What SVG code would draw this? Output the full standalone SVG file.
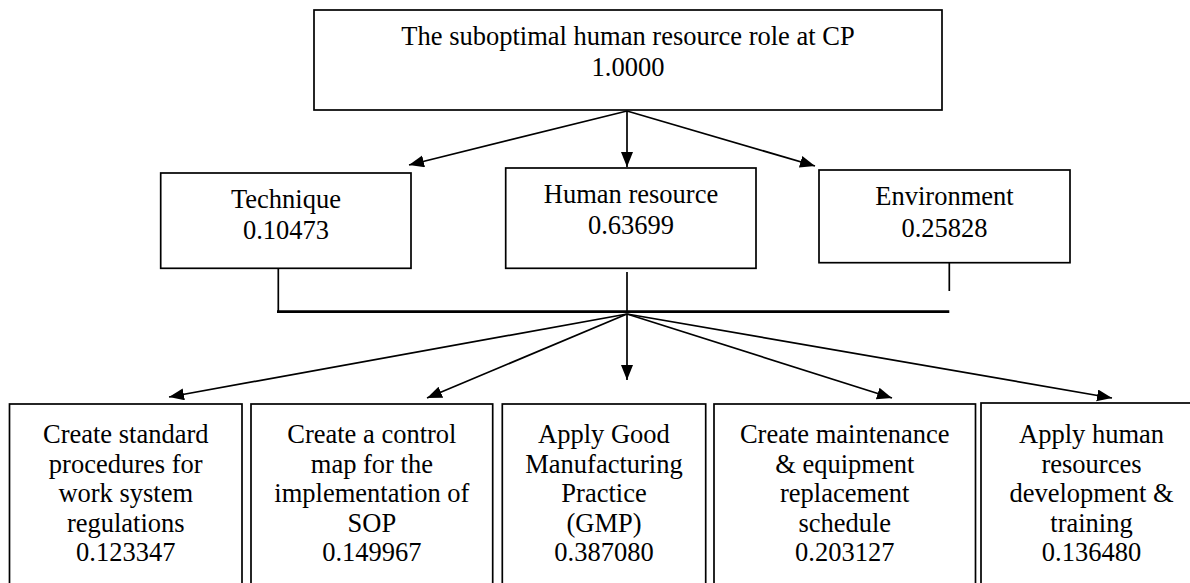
<svg xmlns="http://www.w3.org/2000/svg" width="1190" height="583" viewBox="0 0 1190 583">
<style>
.box{fill:#fff;stroke:#000;stroke-width:1.7}
.t{font-family:"Liberation Serif","Times New Roman",serif;font-size:26.5px;fill:#000;text-anchor:middle}
.c{fill:none;stroke:#000;stroke-width:1.7}
.bus{fill:none;stroke:#000;stroke-width:2.8}
</style>
<defs>
<marker id="ah" markerUnits="userSpaceOnUse" markerWidth="16" markerHeight="14" refX="15" refY="6" orient="auto">
<path d="M0,0 L15,6 L0,12 z" fill="#000"/>
</marker>
</defs>
<rect width="1190" height="583" fill="#fff"/>
<g id="connectors">
<line class="c" x1="627" y1="111" x2="409" y2="165" marker-end="url(#ah)"/>
<line class="c" x1="627" y1="111" x2="627" y2="167" marker-end="url(#ah)"/>
<line class="c" x1="627" y1="111" x2="815" y2="166" marker-end="url(#ah)"/>
<line class="c" x1="278.3" y1="268" x2="278.3" y2="311.7"/>
<line class="bus" x1="277" y1="311.7" x2="949.3" y2="311.7"/>
<line class="c" x1="627" y1="272" x2="627" y2="313"/>
<line class="c" x1="949.3" y1="251" x2="949.3" y2="291"/>
<line class="c" x1="627" y1="314" x2="169" y2="397" marker-end="url(#ah)"/>
<line class="c" x1="627" y1="314" x2="427" y2="398" marker-end="url(#ah)"/>
<line class="c" x1="627" y1="314" x2="627" y2="380" marker-end="url(#ah)"/>
<line class="c" x1="627" y1="314" x2="892" y2="398" marker-end="url(#ah)"/>
<line class="c" x1="627" y1="314" x2="1112" y2="398" marker-end="url(#ah)"/>
</g>
<g id="root">
<rect class="box" x="314" y="10" width="628" height="100"/>
<text class="t" x="628" y="45">The suboptimal human resource role at CP</text>
<text class="t" x="628" y="76">1.0000</text>
</g>
<g id="technique">
<rect class="box" x="160.7" y="173" width="250.3" height="95.3"/>
<text class="t" x="286" y="208">Technique</text>
<text class="t" x="286" y="239">0.10473</text>
</g>
<g id="human">
<rect class="box" x="505.7" y="168" width="250.3" height="100.3"/>
<text class="t" x="631" y="203">Human resource</text>
<text class="t" x="631" y="234">0.63699</text>
</g>
<g id="environment">
<rect class="box" x="819" y="170" width="251" height="92.7"/>
<text class="t" x="944.5" y="205">Environment</text>
<text class="t" x="944.5" y="236.5">0.25828</text>
</g>
<g id="b1">
<rect class="box" x="9.5" y="404" width="232.5" height="200"/>
<text class="t" x="125.75" y="443">Create standard</text>
<text class="t" x="125.75" y="472.5">procedures for</text>
<text class="t" x="125.75" y="502">work system</text>
<text class="t" x="125.75" y="531.5">regulations</text>
<text class="t" x="125.75" y="561">0.123347</text>
</g>
<g id="b2">
<rect class="box" x="251" y="404" width="241.7" height="200"/>
<text class="t" x="371.85" y="443">Create a control</text>
<text class="t" x="371.85" y="472.5">map for the</text>
<text class="t" x="371.85" y="502">implementation of</text>
<text class="t" x="371.85" y="531.5">SOP</text>
<text class="t" x="371.85" y="561">0.149967</text>
</g>
<g id="b3">
<rect class="box" x="502.3" y="404" width="203.4" height="200"/>
<text class="t" x="604" y="443">Apply Good</text>
<text class="t" x="604" y="472.5">Manufacturing</text>
<text class="t" x="604" y="502">Practice</text>
<text class="t" x="604" y="531.5">(GMP)</text>
<text class="t" x="604" y="561">0.387080</text>
</g>
<g id="b4">
<rect class="box" x="714" y="404" width="261.5" height="200"/>
<text class="t" x="844.75" y="443">Create maintenance</text>
<text class="t" x="844.75" y="472.5">&amp; equipment</text>
<text class="t" x="844.75" y="502">replacement</text>
<text class="t" x="844.75" y="531.5">schedule</text>
<text class="t" x="844.75" y="561">0.203127</text>
</g>
<g id="b5">
<rect class="box" x="981" y="403" width="220" height="200"/>
<text class="t" x="1091.5" y="443">Apply human</text>
<text class="t" x="1091.5" y="472.5">resources</text>
<text class="t" x="1091.5" y="502">development &amp;</text>
<text class="t" x="1091.5" y="531.5">training</text>
<text class="t" x="1091.5" y="561">0.136480</text>
</g>
</svg>
